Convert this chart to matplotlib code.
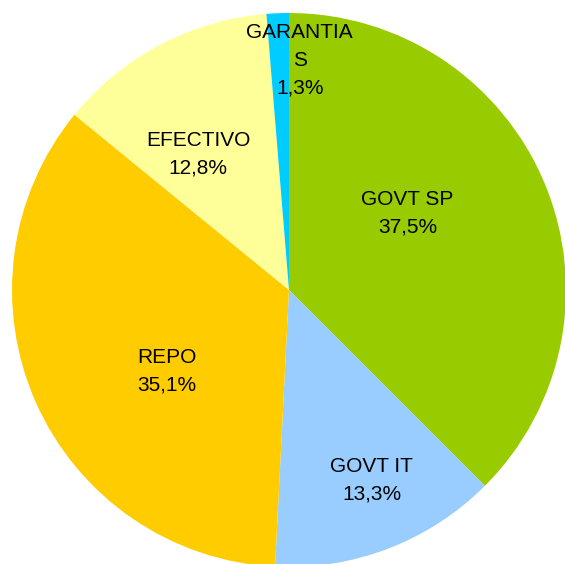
import textwrap
import numpy as np
import matplotlib
matplotlib.use("Agg")
import matplotlib.pyplot as plt

# data, clockwise from 12 o'clock
labels = ["GOVT SP", "GOVT IT", "REPO", "EFECTIVO", "GARANTIAS"]
shares = [37.5, 13.3, 35.1, 12.8, 1.3]
colors = ["#99CC00", "#99CCFF", "#FFCC00", "#FFFF99", "#00CCFF"]

# label placement: radius fraction and angle nudge (deg, clockwise)
label_dist = [0.51, 0.75, 0.53, 0.59, 0.83]
label_shift = [-10.5, -2.4, -9.6, -6.0, 5.0]

plt.rcParams["font.family"] = ["Liberation Sans", "DejaVu Sans"]

fig = plt.figure(figsize=(5.65, 5.64), dpi=100)
ax = fig.add_axes([0, 0, 1, 1])

cx, cy, r = 289, 274, 277
wedges, _ = ax.pie(shares, colors=colors, startangle=90, counterclock=False,
                   center=(cx, cy), radius=r, wedgeprops=dict(linewidth=0))

ax.set_xlim(0, 565)
ax.set_ylim(0, 564)
ax.set_aspect("equal")
ax.axis("off")

total = float(sum(shares))
start = 0.0
for lab, v, d, sh in zip(labels, shares, label_dist, label_shift):
    mid = start + v / total * 180.0  # half of the slice in degrees
    start += v / total * 360.0
    ang = np.deg2rad(90 - (mid + sh))
    x = cx + d * r * np.cos(ang)
    y = cy + d * r * np.sin(ang)
    txt = textwrap.fill(lab, 8) + "\n" + "{:.1f}%".format(v).replace(".", ",")
    ax.text(x, y, txt, ha="center", va="center", fontsize=15,
            linespacing=1.57, color="black", clip_on=False)

fig.savefig("out.png", dpi=100)
